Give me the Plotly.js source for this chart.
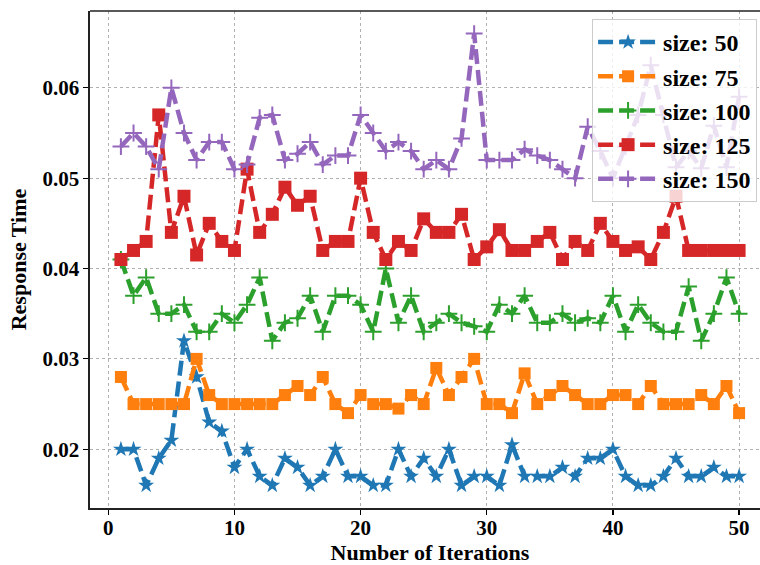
<!DOCTYPE html>
<html>
<head>
<meta charset="utf-8">
<script src="https://cdn.plot.ly/plotly-3.0.1.min.js"></script>
<style>
html, body { margin: 0; padding: 0; overflow: hidden; background: #fff; }
#chart { width: 770px; height: 565px; }
</style>
</head>
<body>
<div id="chart"></div>
<script>
const iterations = Array.from({length: 50}, (_, i) => i + 1);

const seriesNames = ["size: 50", "size: 75", "size: 100", "size: 125", "size: 150"];

const size50 = [0.020,0.020,0.016,0.019,0.021,0.032,0.028,0.023,0.022,0.018,
                0.020,0.017,0.016,0.019,0.018,0.016,0.017,0.020,0.017,0.017,
                0.016,0.016,0.020,0.017,0.019,0.017,0.020,0.016,0.017,0.017,
                0.016,0.0205,0.017,0.017,0.017,0.018,0.017,0.019,0.019,0.020,
                0.017,0.016,0.016,0.017,0.019,0.017,0.017,0.018,0.017,0.017];

const size75 = [0.028,0.025,0.025,0.025,0.025,0.025,0.030,0.026,0.025,0.025,
                0.025,0.025,0.025,0.026,0.027,0.026,0.028,0.025,0.024,0.026,
                0.025,0.025,0.0245,0.026,0.025,0.029,0.026,0.028,0.030,0.025,
                0.025,0.024,0.0284,0.025,0.026,0.027,0.026,0.025,0.025,0.026,
                0.026,0.025,0.027,0.025,0.025,0.025,0.026,0.025,0.027,0.024];

const size100 = [0.041,0.037,0.039,0.035,0.035,0.036,0.033,0.033,0.035,0.034,
                 0.036,0.039,0.032,0.034,0.0345,0.037,0.033,0.037,0.037,0.036,
                 0.033,0.040,0.034,0.037,0.033,0.034,0.035,0.034,0.0336,0.033,
                 0.036,0.035,0.037,0.034,0.034,0.035,0.034,0.0345,0.034,0.037,
                 0.033,0.036,0.034,0.033,0.033,0.038,0.032,0.035,0.039,0.035];

const size125 = [0.041,0.042,0.043,0.057,0.044,0.048,0.0415,0.045,0.043,0.042,
                 0.051,0.044,0.046,0.049,0.047,0.048,0.042,0.043,0.043,0.050,
                 0.044,0.041,0.043,0.042,0.0455,0.044,0.044,0.046,0.041,0.0424,
                 0.0443,0.042,0.042,0.043,0.044,0.041,0.043,0.042,0.045,0.043,
                 0.042,0.0424,0.041,0.044,0.048,0.042,0.042,0.042,0.042,0.042];

const size150 = [0.0535,0.055,0.0535,0.051,0.060,0.055,0.052,0.054,0.054,0.051,
                 0.0515,0.0567,0.057,0.052,0.0527,0.054,0.0515,0.0525,0.0525,0.057,
                 0.055,0.053,0.054,0.053,0.051,0.052,0.051,0.0544,0.066,0.052,
                 0.052,0.052,0.0532,0.0525,0.052,0.051,0.050,0.0557,0.053,0.050,
                 0.0535,0.057,0.0625,0.057,0.0512,0.053,0.0511,0.0558,0.0512,0.059];

const colors = ["#1f77b4", "#ff7f0e", "#2ca02c", "#d62728", "#9467bd"];
const symbols = ["star", "square", "cross-thin", "square", "cross-thin"];
const markerSizes = [12, 12, 12, 13, 12];
const allValues = [size50, size75, size100, size125, size150];

const traces = allValues.map((vals, k) => ({
  x: iterations,
  y: vals,
  name: seriesNames[k],
  type: "scatter",
  mode: "lines+markers",
  line: { color: colors[k], width: 4.5, dash: "15px,6px" },
  marker: {
    symbol: symbols[k],
    size: markerSizes[k],
    color: colors[k],
    line: { color: colors[k], width: symbols[k] === "cross-thin" ? 2 : 0 }
  }
}));

const serif = "Liberation Serif, Times New Roman, serif";

const axisCommon = {
  ticks: "outside",
  ticklen: 5,
  tickwidth: 1.2,
  tickcolor: "#000",
  showline: true,
  mirror: false,
  linecolor: "#222",
  linewidth: 1.6,
  showgrid: true,
  gridcolor: "#b0b0b0",
  griddash: "dot",
  gridwidth: 1,
  zeroline: false,
  tickfont: { family: serif, size: 21, weight: "bold", color: "#000" }
};

const layout = {
  width: 770,
  height: 565,
  margin: { l: 90, r: 0, t: 11, b: 57 },
  paper_bgcolor: "#ffffff",
  plot_bgcolor: "#ffffff",
  showlegend: true,
  font: { family: serif, color: "#000" },
  xaxis: Object.assign({}, axisCommon, {
    range: [-1.45, 52.45],
    tick0: 0,
    dtick: 10,
    ticklabelstandoff: -5,
    title: { text: "Number of Iterations", font: { family: serif, size: 22, weight: "bold", color: "#000" }, standoff: 8 }
  }),
  yaxis: Object.assign({}, axisCommon, {
    range: [0.0135, 0.0685],
    tick0: 0,
    dtick: 0.01,
    tickformat: ".2f",
    title: { text: "Response Time", font: { family: serif, size: 22, weight: "bold", color: "#000" }, standoff: 10 }
  }),
  shapes: [
    { type: "line", xref: "paper", yref: "paper", x0: 0, x1: 1, y0: 1, y1: 1,
      line: { color: "#222", width: 1.6 } }
  ],
  legend: {
    x: 0.981,
    y: 0.984,
    xanchor: "right",
    yanchor: "top",
    bgcolor: "rgba(255,255,255,0.8)",
    bordercolor: "#cccccc",
    borderwidth: 1,
    itemwidth: 60,
    font: { family: serif, size: 24, weight: "bold", color: "#000" }
  }
};

Plotly.newPlot("chart", traces, layout, { displayModeBar: false, staticPlot: true });
</script>
</body>
</html>
